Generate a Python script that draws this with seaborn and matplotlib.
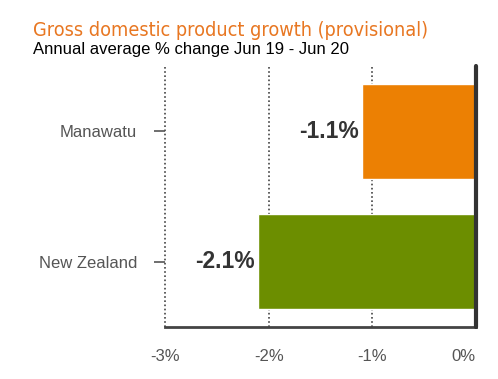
import matplotlib
matplotlib.use("Agg")
from matplotlib import pyplot as plt
import pandas as pd
import seaborn as sns

regions = ["Manawatu", "New Zealand"]
growth = [-1.1, -2.1]
bar_colors = ["#EC8003", "#6C8E00"]
xticks = [-3, -2, -1, 0]
xtick_labels = ["-3%", "-2%", "-1%", "0%"]

title = "Gross domestic product growth (provisional)"
subtitle = "Annual average % change Jun 19 - Jun 20"

df = pd.DataFrame({"region": regions, "growth": growth})

sns.set_style("white")
plt.rcParams["font.family"] = ["Liberation Sans", "DejaVu Sans"]

f = plt.figure(figsize=(4.98, 3.79), dpi=100)
ax = f.add_axes([0.3313, 0.1372, 0.6245, 0.6887])

sns.barplot(
    data=df,
    x="growth",
    y="region",
    hue="region",
    palette=bar_colors,
    width=0.73,
    legend=False,
    saturation=1,
    ax=ax,
)

ax.set_xlim(-3, 0)
ax.set_ylim(1.5, -0.5)
ax.set_xticks(xticks)
ax.set_xticklabels(xtick_labels)
ax.set_xlabel("")
ax.set_ylabel("")

# dotted gridlines, solid zero line
for x in xticks[:-1]:
    ax.axvline(x, color="#444444", linestyle=(0, (1, 1.5)), linewidth=1.2,
               zorder=0, clip_on=False)
ax.axvline(0, color="#333333", linewidth=3, zorder=3, clip_on=False)

for s in ["top", "right", "left"]:
    ax.spines[s].set_visible(False)
ax.spines["bottom"].set_color("#444444")
ax.spines["bottom"].set_linewidth(2)

ax.tick_params(axis="y", length=8, width=1.2, color="#555555", pad=12,
               labelsize=12, labelcolor="#555555", left=True)
ax.tick_params(axis="x", length=0, pad=16, labelsize=12, labelcolor="#555555")
ax.get_xticklabels()[-1].set_horizontalalignment("right")

for i, v in enumerate(growth):
    ax.text(v - 0.03, i, "{:.1f}%".format(v), ha="right", va="center",
            fontsize=16.5, fontweight="bold", color="#333333")

f.text(0.066, 0.905, title, color="#E87722", fontsize=14.2,
       family=["DejaVu Sans"], fontstretch="condensed")
f.text(0.066, 0.857, subtitle, color="black", fontsize=12)

f.savefig("out.png", dpi=100)
